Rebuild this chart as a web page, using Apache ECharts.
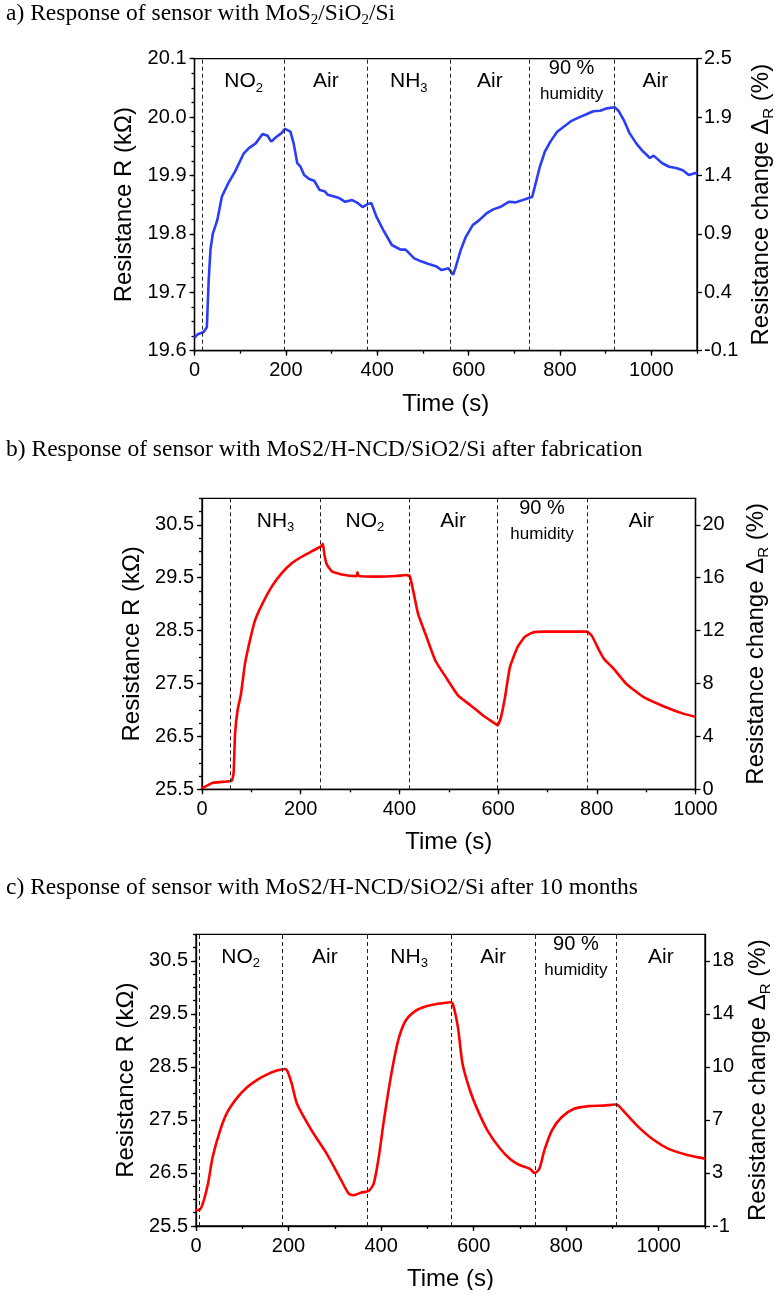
<!DOCTYPE html>
<html><head><meta charset="utf-8">
<script src="https://cdn.jsdelivr.net/npm/echarts@6/dist/echarts.min.js"></script>
<style>html,body{margin:0;padding:0;background:#fff}#c{width:776px;height:1290px}</style>
</head><body><div id="c"></div>
<script>
// ---------- Panel a: MoS2/SiO2/Si ----------
const timeA = [0,5,10,20,27,31,35,40,50,60,74,89,108,119,134,149,160,168,179,191,198,210,217,225,232,240,251,262,274,285,292,315,330,345,357,368,379,387,398,413,432,451,462,481,496,511,530,541,556,566,571,583,594,609,624,639,654,669,688,703,715,730,739,745,756,767,779,794,809,824,843,858,873,888,903,920,929,941,952,967,982,997,1005,1024,1039,1054,1069,1082,1095,1100];
const resA = [19.622,19.627,19.629,19.632,19.640,19.720,19.773,19.800,19.824,19.864,19.887,19.907,19.938,19.947,19.955,19.971,19.968,19.958,19.966,19.973,19.980,19.975,19.955,19.921,19.915,19.901,19.894,19.891,19.875,19.873,19.867,19.862,19.855,19.858,19.853,19.846,19.851,19.853,19.830,19.807,19.781,19.773,19.773,19.758,19.753,19.749,19.744,19.738,19.741,19.730,19.741,19.773,19.795,19.815,19.824,19.835,19.842,19.846,19.855,19.854,19.857,19.861,19.863,19.881,19.915,19.941,19.958,19.975,19.984,19.993,20.000,20.005,20.010,20.011,20.015,20.017,20.010,19.993,19.973,19.955,19.941,19.930,19.934,19.921,19.915,19.913,19.909,19.901,19.904,19.904];
const dashA = [18,197,378,560,733,918];
const regionsA = ['NO2','Air','NH3','Air','90 % humidity','Air'];
const leftTicksA = [19.6,19.7,19.8,19.9,20.0,20.1];
const rightLabelsA = ['-0.1','0.4','0.9','1.4','1.9','2.5'];
const xTicksA = [0,200,400,600,800,1000];

// ---------- Panel b: MoS2/H-NCD/SiO2/Si after fabrication ----------
const timeB = [0,12,22,42,60,64,67,72,79,87,97,107,122,142,162,183,203,223,241,245,248,253,263,283,313,315,318,353,393,413,421,428,438,453,473,494,519,544,569,594,599,606,614,624,639,654,669,694,744,780,790,805,815,835,860,895,935,975,1000];
const resB = [25.52,25.58,25.625,25.64,25.66,25.80,26.55,26.99,27.30,27.87,28.31,28.68,29.00,29.34,29.59,29.78,29.90,30.00,30.09,30.14,29.94,29.75,29.62,29.56,29.53,29.60,29.53,29.52,29.53,29.55,29.53,29.25,28.81,28.43,27.93,27.62,27.27,27.09,26.90,26.74,26.71,26.87,27.24,27.81,28.18,28.38,28.46,28.48,28.48,28.48,28.40,28.12,27.96,27.77,27.49,27.24,27.07,26.93,26.87];
const dashB = [58,240,420,598,780];
const regionsB = ['NH3','NO2','Air','90 % humidity','Air'];
const leftTicksB = [25.5,26.5,27.5,28.5,29.5,30.5];
const rightLabelsB = ['0','4','8','12','16','20'];
const xTicksB = [0,200,400,600,800,1000];

// ---------- Panel c: MoS2/H-NCD/SiO2/Si after 10 months ----------
const timeC = [0,7,15,26,36,52,68,90,111,133,154,175,191,197,207,218,250,282,314,330,341,357,373,384,395,405,421,437,453,475,496,523,550,555,566,576,592,609,630,657,678,699,721,732,742,753,769,790,817,849,881,907,913,929,956,988,1020,1058,1100];
const resC = [25.80,25.80,25.93,26.30,26.80,27.30,27.65,27.93,28.12,28.26,28.36,28.43,28.46,28.43,28.18,27.81,27.30,26.87,26.36,26.11,26.08,26.13,26.16,26.30,26.80,27.43,28.31,29.00,29.37,29.56,29.64,29.69,29.72,29.69,29.25,28.56,28.06,27.68,27.30,26.96,26.77,26.65,26.58,26.50,26.58,26.93,27.30,27.55,27.71,27.76,27.77,27.79,27.77,27.62,27.37,27.13,26.96,26.85,26.77];
const dashC = [6,187,370,551,733,909];
const regionsC = ['NO2','Air','NH3','Air','90 % humidity','Air'];
const leftTicksC = [25.5,26.5,27.5,28.5,29.5,30.5];
const rightLabelsC = ['-1','3','7','10','14','18'];
const xTicksC = [0,200,400,600,800,1000];

const FONT = "'Liberation Sans', Arial, sans-serif";
const SERIF = "'Liberation Serif', 'Times New Roman', serif";

const panels = [
  {title:'{t|a) Response of sensor with MoS}{s|2}{t|/SiO}{s|2}{t|/Si}', titleTop:-5,
   grid:{left:194.5, top:58.7, width:502.5, height:292}, xMax:1100, yMin:19.6, yMax:20.1, minorStep:0.025,
   time:timeA, res:resA, dash:dashA, regions:regionsA, leftTicks:leftTicksA, rightLabels:rightLabelsA, xTicks:xTicksA,
   color:'#2b3df5', rightGap:49, smooth:false},
  {title:'{t|b) Response of sensor with MoS2/H-NCD/SiO2/Si after fabrication}', titleTop:431,
   grid:{left:202, top:498.3, width:493.5, height:291}, xMax:1000, yMin:25.5, yMax:31, minorStep:0.25,
   time:timeB, res:resB, dash:dashB, regions:regionsB, leftTicks:leftTicksB, rightLabels:rightLabelsB, xTicks:xTicksB,
   color:'#ff0000', rightGap:46, smooth:0.15},
  {title:'{t|c) Response of sensor with MoS2/H-NCD/SiO2/Si after 10 months}', titleTop:869,
   grid:{left:196, top:934.3, width:509, height:291.7}, xMax:1100, yMin:25.5, yMax:31, minorStep:0.25,
   time:timeC, res:resC, dash:dashC, regions:regionsC, leftTicks:leftTicksC, rightLabels:rightLabelsC, xTicks:xTicksC,
   color:'#ff0000', rightGap:38, smooth:0.25}
];

function richName(n){
  if (n.indexOf('humidity') >= 0) return '{p|90 %}\n{h|humidity}';
  const m = n.match(/^([A-Za-z]+)(\d)$/);
  if (m) return '{m|' + m[1] + '}{s|' + m[2] + '}';
  return '{m|' + n + '}';
}

const BLACK = '#000';
const tickLine = {color: BLACK, width: 1.3};
const option = {animation:false, backgroundColor:'#fff', title:[], grid:[], xAxis:[], yAxis:[], series:[]};

panels.forEach((P, p) => {
  option.title.push({
    text: P.title, left: 1, top: P.titleTop,
    textStyle: {fontFamily: SERIF, fontSize: 23.5, fontWeight: 'normal', color: BLACK,
      rich: {t: {fontFamily: SERIF, fontSize: 23.5, color: BLACK, lineHeight: 28, verticalAlign: 'middle'},
             s: {fontFamily: SERIF, fontSize: 15, color: BLACK, lineHeight: 28, verticalAlign: 'bottom'}}}
  });
  option.grid.push(Object.assign({show: true, borderColor: BLACK, borderWidth: 1.3, backgroundColor: 'transparent',
    containLabel: false, outerBoundsMode: 'none'}, P.grid));

  const xi = option.xAxis.length;
  option.xAxis.push({
    gridIndex: p, type: 'value', min: 0, max: P.xMax, interval: 200, position: 'bottom',
    axisLine: {show: true, onZero: false, lineStyle: tickLine},
    axisTick: {show: true, customValues: P.xTicks, length: 5, lineStyle: tickLine},
    axisLabel: {customValues: P.xTicks, margin: 10, fontSize: 20, color: BLACK, fontFamily: FONT,
      formatter: v => String(v)},
    splitLine: {show: false},
    name: 'Time (s)', nameLocation: 'middle', nameGap: 41.5,
    nameTextStyle: {fontSize: 24, fontFamily: FONT, color: BLACK}
  });
  option.xAxis.push({
    gridIndex: p, type: 'value', min: 0, max: P.xMax, interval: 100, position: 'bottom',
    axisLine: {show: false, onZero: false}, axisTick: {show: true, length: 3, lineStyle: tickLine},
    axisLabel: {show: false}, splitLine: {show: false}
  });

  const yi = option.yAxis.length;
  option.yAxis.push({
    gridIndex: p, type: 'value', min: P.yMin, max: P.yMax, position: 'left',
    axisLine: {show: true, onZero: false, lineStyle: tickLine},
    axisTick: {show: true, customValues: P.leftTicks, length: 5, lineStyle: tickLine},
    axisLabel: {customValues: P.leftTicks, margin: 8, fontSize: 20, color: BLACK, fontFamily: FONT,
      formatter: v => Number(v).toFixed(1)},
    splitLine: {show: false},
    name: 'Resistance R (kΩ)', nameLocation: 'middle', nameRotate: 90, nameGap: 54,
    nameTextStyle: {fontSize: 24, fontFamily: FONT, color: BLACK}
  });
  option.yAxis.push({
    gridIndex: p, type: 'value', min: P.yMin, max: P.yMax, interval: P.minorStep, position: 'left',
    axisLine: {show: false, onZero: false}, axisTick: {show: true, length: 3, lineStyle: tickLine},
    axisLabel: {show: false}, splitLine: {show: false}
  });
  option.yAxis.push({
    gridIndex: p, type: 'value', min: P.yMin, max: P.yMax, position: 'right',
    axisLine: {show: true, onZero: false, lineStyle: tickLine},
    axisTick: {show: true, customValues: P.leftTicks, length: 5, lineStyle: tickLine},
    axisLabel: {customValues: P.leftTicks, margin: 7, fontSize: 20, color: BLACK, fontFamily: FONT,
      formatter: v => {
        const k = P.leftTicks.findIndex(t => Math.abs(t - v) < 1e-6);
        return k >= 0 ? P.rightLabels[k] : '';
      }},
    splitLine: {show: false},
    name: '{n|Resistance change Δ}{s|R}{n| (%)}', nameLocation: 'middle', nameRotate: 90, nameGap: P.rightGap,
    nameTextStyle: {fontSize: 24, fontFamily: FONT, color: BLACK,
      rich: {n: {fontSize: 24, fontFamily: FONT, color: BLACK, lineHeight: 30, verticalAlign: 'middle'},
             s: {fontSize: 15, fontFamily: FONT, color: BLACK, lineHeight: 30, verticalAlign: 'bottom'}}}
  });

  option.series.push({
    type: 'line', xAxisIndex: xi, yAxisIndex: yi,
    data: P.time.map((t, i) => [t, P.res[i]]),
    showSymbol: false, symbol: 'none', smooth: P.smooth,
    lineStyle: {color: P.color, width: 2.6}, itemStyle: {color: P.color}, z: 3,
    markLine: {silent: true, symbol: ['none', 'none'], label: {show: false}, animation: false,
      lineStyle: {type: [4, 3], color: '#222', width: 1},
      data: P.dash.map(x => ({xAxis: x}))}
  });

  const bounds = P.dash.concat([P.xMax]);
  option.series.push({
    type: 'scatter', xAxisIndex: xi, yAxisIndex: yi, silent: true, clip: false, z: 5,
    symbolSize: 1, itemStyle: {color: 'rgba(0,0,0,0)'},
    data: P.regions.map((n, i) => ({value: [(bounds[i] + bounds[i + 1]) / 2, P.yMax], name: n})),
    label: {show: true, position: 'inside', offset: [0, 23], color: BLACK, opacity: 1,
      textBorderWidth: 0, textBorderColor: 'transparent',
      formatter: d => richName(d.name),
      rich: {
        m: {fontSize: 21, fontFamily: FONT, color: BLACK, lineHeight: 26, verticalAlign: 'middle', textBorderWidth: 0},
        s: {fontSize: 13, fontFamily: FONT, color: BLACK, lineHeight: 26, verticalAlign: 'bottom', textBorderWidth: 0},
        p: {fontSize: 20, fontFamily: FONT, color: BLACK, lineHeight: 26, align: 'center', textBorderWidth: 0},
        h: {fontSize: 17, fontFamily: FONT, color: BLACK, lineHeight: 26, align: 'center', textBorderWidth: 0}
      }}
  });
});

const chart = echarts.init(document.getElementById('c'), null, {renderer: 'canvas', width: 776, height: 1290});
chart.setOption(option);
</script>
</body></html>
